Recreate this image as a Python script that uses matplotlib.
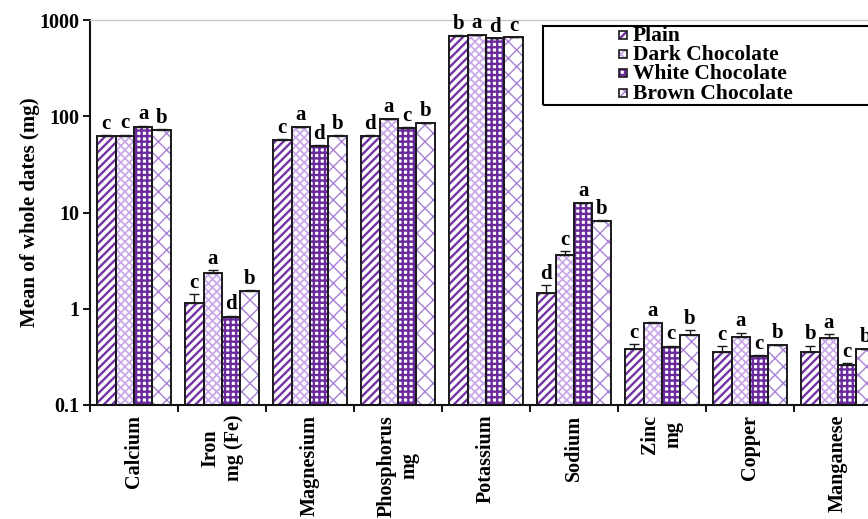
import numpy as np
import matplotlib
matplotlib.use('Agg')
import matplotlib.pyplot as plt
from matplotlib.patches import Rectangle

plt.rcParams['font.family'] = ['Liberation Serif', 'DejaVu Serif']
plt.rcParams['font.weight'] = 'bold'

## Mineral content of whole dates (mg), log scale
minerals = ['Calcium', 'Iron\nmg (Fe)', 'Magnesium', 'Phosphorus\nmg', 'Potassium',
            'Sodium', 'Zinc\nmg', 'Copper', 'Manganese']
treatments = ['Plain', 'Dark Chocolate', 'White Chocolate', 'Brown Chocolate']

plain = [62, 1.14, 56.6, 62.4, 690, 1.45, 0.385, 0.355, 0.355]
dark = [63, 2.37, 76.8, 93, 700, 3.65, 0.716, 0.513, 0.497]
white = [78, 0.815, 49.1, 75.5, 645, 12.5, 0.403, 0.323, 0.258]
brown = [72, 1.54, 62.4, 84.5, 660, 8.2, 0.537, 0.42, 0.379]

plain_err = [1.5, 0.27, 1.0, 1.0, 5, 0.3, 0.045, 0.055, 0.06]
dark_err = [1.5, 0.16, 1.0, 1.0, 5, 0.3, 0.01, 0.05, 0.05]
white_err = [2.0, 0.03, 1.0, 1.0, 5, 0.1, 0.01, 0.005, 0.013]
brown_err = [1.5, 0.02, 1.0, 1.0, 5, 0.1, 0.065, 0.005, 0.005]

# Duncan grouping letters per mineral (plain, dark, white, brown)
plain_let = ['c', 'c', 'c', 'd', 'b', 'd', 'c', 'c', 'b']
dark_let = ['c', 'a', 'a', 'a', 'a', 'c', 'a', 'a', 'a']
white_let = ['a', 'd', 'd', 'c', 'd', 'a', 'c', 'c', 'c']
brown_let = ['b', 'b', 'b', 'b', 'c', 'b', 'b', 'b', 'b']

series = [plain, dark, white, brown]
errors = [plain_err, dark_err, white_err, brown_err]
letters = [plain_let, dark_let, white_let, brown_let]

# hatch styles: (hatch colour, hatch pattern, hatch line width)
styles = [('#7433A6', '////', 1.7),
          ('#C9A9EA', 'xxxx', 1.3),
          ('#6A2A9C', '+++', 1.7),
          ('#A680D4', 'xx', 1.0)]

W, H = 868, 519
fig = plt.figure(figsize=(W / 100, H / 100), dpi=100)
ax = fig.add_axes([90 / W, (H - 405) / H, 792 / W, 385 / H])

x = np.arange(len(minerals))
bw = 0.21

for i, vals in enumerate(series):
    col, hat, hlw = styles[i]
    pos = x + (i - 1.5) * bw
    with plt.rc_context({'hatch.linewidth': hlw}):
        bars = ax.bar(pos, vals, bw, color='white', edgecolor=col, hatch=hat,
                      linewidth=0, zorder=2)
        for b in bars:
            if hasattr(b, 'set_hatch_linewidth'):
                b.set_hatch_linewidth(hlw)
    ax.bar(pos, vals, bw, fill=False, edgecolor='#1a1a1a', linewidth=1.4, zorder=3)
    ax.errorbar(pos, vals, yerr=[np.zeros(len(vals)), errors[i]], fmt='none',
                ecolor='#1a1a1a', elinewidth=1.0, capsize=3.5, capthick=1.0, zorder=4)
    for xp, v, e, lt in zip(pos, vals, errors[i], letters[i]):
        ax.annotate(lt, (xp, v + e), xytext=(0, 1), textcoords='offset points',
                    ha='center', va='bottom', fontsize=15, fontweight='bold',
                    annotation_clip=False, zorder=5)

ax.set_yscale('log')
ax.set_ylim(0.1, 1000)
ax.set_xlim(-0.5, len(minerals) - 0.5)
ax.set_yticks([0.1, 1, 10, 100, 1000])
ax.set_yticklabels(['0.1', '1', '10', '100', '1000'])
ax.yaxis.set_minor_locator(matplotlib.ticker.NullLocator())
ax.tick_params(axis='y', which='major', length=5, width=1.3, labelsize=14.5, pad=3)

ax.set_xticks(x)
ax.set_xticklabels(minerals, rotation=90, ha='center', va='top', multialignment='center')
ax.set_xticks(np.arange(len(minerals) + 1) - 0.5, minor=True)
ax.tick_params(axis='x', which='major', length=0, labelsize=14.5, pad=7)
ax.tick_params(axis='x', which='minor', length=5, width=1.3)

for s in ['left', 'bottom']:
    ax.spines[s].set_linewidth(1.5)
    ax.spines[s].set_color('#111111')
ax.spines['top'].set_color('#c8c8c8')
ax.spines['top'].set_linewidth(1.0)
ax.spines['right'].set_visible(False)

fig.text(30 / W, 1 - 212 / H, 'Mean of whole dates (mg)', rotation=90,
         ha='center', va='center', fontsize=15, fontweight='bold')

# legend box, running off the right edge
fig.add_artist(Rectangle((543 / W, 1 - 105 / H), 0.45, 79 / H, transform=fig.transFigure,
                         fill=False, edgecolor='black', linewidth=1.5))
row_y = [35, 54, 73, 93]
for i, name in enumerate(treatments):
    col, hat, hlw = styles[i]
    yc = row_y[i]
    with plt.rc_context({'hatch.linewidth': hlw}):
        h = Rectangle((619 / W, 1 - (yc + 4) / H), 8 / W, 8 / H, transform=fig.transFigure,
                      facecolor='white', edgecolor=col, hatch=hat, linewidth=0)
        if hasattr(h, 'set_hatch_linewidth'):
            h.set_hatch_linewidth(hlw)
    fig.add_artist(h)
    fig.add_artist(Rectangle((619 / W, 1 - (yc + 4) / H), 8 / W, 8 / H,
                             transform=fig.transFigure, fill=False,
                             edgecolor='#1a1a1a', linewidth=1.2))
    fig.text(633 / W, 1 - (yc + 6) / H, name, ha='left', va='baseline',
             fontsize=15.5, fontweight='bold')

fig.savefig('out.png', dpi=100)
